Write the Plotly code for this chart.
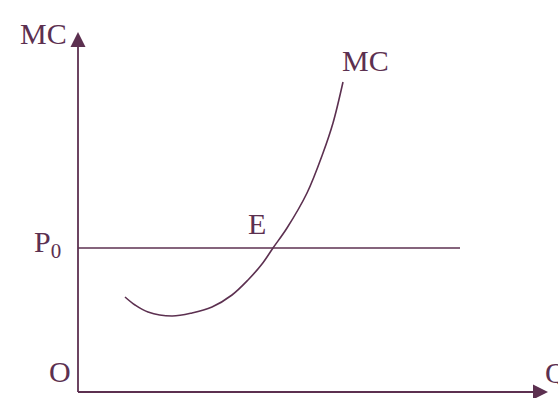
import plotly.graph_objects as go

# MC curve (Q, cost)
q_mc = [4.7, 5.7, 7.0, 9.4, 11.4, 13.4, 15.4, 17.0, 18.4, 19.5, 20.9, 22.9, 24.5, 25.5, 26.5]
mc = [9.5, 8.7, 8.0, 7.6, 7.9, 8.5, 9.7, 11.2, 12.8, 14.4, 16.4, 19.9, 23.9, 26.9, 31.0]

# price line P0
p0 = 14.4
q_p0 = [0, 38.2]

# axis extents
q_max = 47.0
y_max = 36.0

ink = "#5c3050"
font = dict(family="Liberation Serif, Times New Roman, serif", size=30, color=ink)

fig = go.Figure()
fig.add_trace(go.Scatter(x=q_mc, y=mc, mode="lines",
                         line=dict(color=ink, width=1.6, shape="spline", smoothing=1.0),
                         hoverinfo="skip"))
fig.add_trace(go.Scatter(x=q_p0, y=[p0, p0], mode="lines",
                         line=dict(color=ink, width=1.6), hoverinfo="skip"))

# axes
fig.add_trace(go.Scatter(x=[0, 0], y=[0, y_max - 1], mode="lines",
                         line=dict(color=ink, width=1.8), hoverinfo="skip"))
fig.add_trace(go.Scatter(x=[0, q_max - 1], y=[0, 0], mode="lines",
                         line=dict(color=ink, width=1.8), hoverinfo="skip"))
# arrow heads (tip sits on the point)
fig.add_trace(go.Scatter(x=[0], y=[y_max], mode="markers", hoverinfo="skip",
                         marker=dict(symbol="arrow-up", size=15, color=ink, line=dict(width=0))))
fig.add_trace(go.Scatter(x=[q_max], y=[0], mode="markers", hoverinfo="skip",
                         marker=dict(symbol="arrow-right", size=15, color=ink, line=dict(width=0))))

labels = [
    ("MC", -3.45, 35.85),
    ("MC", 28.7, 33.2),
    ("E", 17.85, 16.85),
    ("P<sub>0</sub>", -3.1, 14.8),
    ("O", -1.85, 2.05),
    ("Q", 47.8, 2.0),
]
for txt, x, y in labels:
    fig.add_annotation(x=x, y=y, xref="x", yref="y", text=txt,
                       showarrow=False, font=font)

fig.update_xaxes(range=[-7.8, 48.0], visible=False)
fig.update_yaxes(range=[-0.6, 39.2], visible=False)
fig.update_layout(width=558, height=398, margin=dict(l=0, r=0, t=0, b=0),
                  showlegend=False, plot_bgcolor="white", paper_bgcolor="white")
fig.write_html("out.html", config={"displayModeBar": False},
               post_script="document.body.style.margin='0';")
